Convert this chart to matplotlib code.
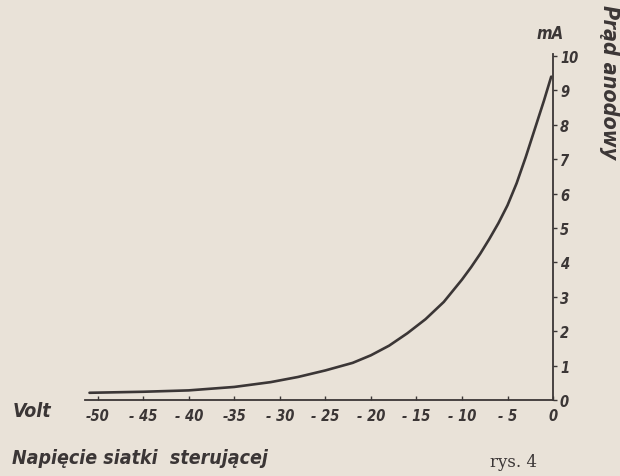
import numpy as np
import matplotlib
matplotlib.use("Agg")
import matplotlib.pyplot as plt

# napięcie siatki [V] i prąd anodowy [mA]
napiecie = [-50.9, -45, -40, -35, -31, -28, -25, -22, -20, -18, -16, -14, -12,
            -10, -9, -8, -7, -6, -5, -4, -3, -2, -1, -0.2]
prad = [0.21, 0.24, 0.28, 0.38, 0.52, 0.67, 0.86, 1.08, 1.3, 1.58, 1.94, 2.35, 2.85,
        3.5, 3.86, 4.25, 4.68, 5.14, 5.66, 6.3, 7.06, 7.88, 8.7, 9.4]

x_ticks = [-50, -45, -40, -35, -30, -25, -20, -15, -10, -5, 0]
x_labels = ["-50", "- 45", "- 40", "-35", "- 30", "- 25", "- 20", "- 15", "- 10", "- 5", "0"]
y_ticks = list(range(0, 11))
y_labels = [str(v) for v in y_ticks]

bg = "#e9e2d8"
ink = "#3b3636"
hand = dict(family="DejaVu Sans", style="italic", weight="bold", stretch="condensed", color=ink)

fig = plt.figure(figsize=(6.2, 4.77), dpi=100, facecolor=bg)
ax = fig.add_axes([0.137, 0.1593, 0.755, 0.7212], facecolor=bg)

ax.plot(napiecie, prad, color=ink, lw=1.9, solid_capstyle="round", solid_joinstyle="round")

ax.set_xlim(-51.4, 0)
ax.set_ylim(0, 10)

for side in ["top", "left"]:
    ax.spines[side].set_visible(False)
for side in ["bottom", "right"]:
    ax.spines[side].set_color(ink)
    ax.spines[side].set_linewidth(1.3)
ax.spines["right"].set_bounds(0, 10.05)

ax.yaxis.tick_right()
ax.set_xticks(x_ticks)
ax.set_xticklabels(x_labels)
ax.set_yticks(y_ticks)
ax.set_yticklabels(y_labels)
ax.tick_params(axis="x", direction="in", length=3, width=1, color=ink, pad=6)
ax.tick_params(axis="y", direction="out", length=3, width=1, color=ink, pad=2)
for lab in ax.get_xticklabels() + ax.get_yticklabels():
    lab.set(fontsize=10.5, **hand)

fig.text(0.02, 0.125, "Volt", fontsize=14, ha="left", va="baseline", **hand)
fig.text(0.02, 0.028, "Napięcie siatki  sterującej", fontsize=14, ha="left", va="baseline", **hand)
fig.text(0.79, 0.02, "rys. 4", fontsize=12, family="DejaVu Serif", color=ink, ha="left", va="baseline")
fig.text(0.866, 0.918, "mA", fontsize=12, ha="left", va="baseline", **hand)
fig.text(0.983, 0.99, "Prąd anodowy", fontsize=15.5, rotation=270, ha="center", va="top", **hand)

fig.savefig("out.png", dpi=100, facecolor=bg)
